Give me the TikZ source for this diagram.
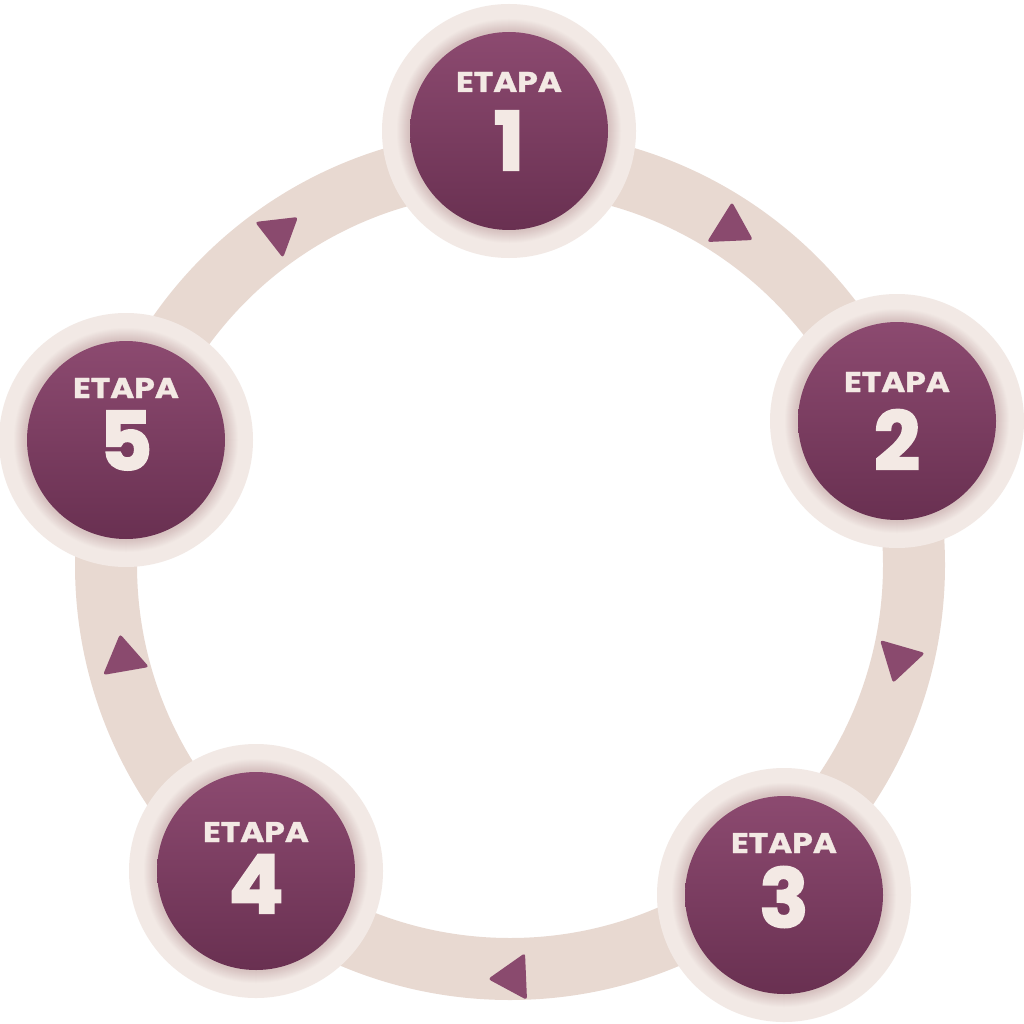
\documentclass[tikz,border=0pt]{standalone}
\usepackage{fontspec}
\setmainfont{Poppins}
\newfontfamily\digitfont{Poppins}[UprightFont=* Bold, FakeBold=2.5]
\newfontfamily\etapafont{Poppins}[UprightFont=* Bold, FakeBold=1]
\definecolor{ringc}{HTML}{E8D9D1}
\definecolor{discl}{HTML}{F2E9E5}
\definecolor{shadowc}{HTML}{D6C1BF}
\definecolor{ptop}{HTML}{8C4A70}
\definecolor{pbot}{HTML}{693051}
\definecolor{tric}{HTML}{8A4A6E}
\definecolor{textc}{HTML}{F3E9E4}
\tikzset{
  pdisc/.style={circle, minimum size=198pt, inner sep=0pt, top color=ptop, bottom color=pbot, draw=none},
  etapa/.style={anchor=base, text=textc, inner sep=0pt, font=\etapafont\fontsize{28.5}{30}\selectfont},
  digit/.style={anchor=base, text=textc, inner sep=0pt, font=\digitfont\fontsize{81}{85}\selectfont},
  arrowtri/.style={fill=tric, rounded corners=3pt}
}
\newcommand\stagedisc[6]{%
  \fill[discl] (#2,#3) circle[radius=127pt];
  \foreach \i in {0,...,12}{%
    \pgfmathtruncatemacro\pc{\i*8}%
    \fill[shadowc!\pc!discl] (#2,#3) circle[radius={(113-\i)*1pt}];
  }
  \node[pdisc] (s#1) at (#2,#3) {};
  \node[etapa] (e#1) at (#2,#5) {\scalebox{1.15}[1]{ETAPA}};
  \node[digit] (n#1) at (#2,#6) {#4};
}
\begin{document}
\begin{tikzpicture}[x=1pt,y=-1pt]
\useasboundingbox (0,0) rectangle (1024,1024);
\fill[white] (0,0) rectangle (1024,1024);
% ring
\draw[ringc, line width=62pt] (510,565) circle[radius=404pt];
% arrow triangles
\fill[arrowtri] (732,202) -- (753,240) -- (707,242) -- cycle;
\fill[arrowtri] (880,640) -- (925,653) -- (893,683) -- cycle;
\fill[arrowtri] (525,953) -- (527,1000) -- (488,979) -- cycle;
\fill[arrowtri] (120,634) -- (149,667) -- (103,675) -- cycle;
\fill[arrowtri] (255,222) -- (298,217) -- (283,258) -- cycle;
% stages
\stagedisc{1}{509}{131}{1}{92}{170}
\stagedisc{2}{897}{421}{2}{392}{470}
\stagedisc{3}{784}{895}{3}{853}{927}
\stagedisc{4}{256}{871}{4}{842}{913}
\stagedisc{5}{126}{440}{5}{398}{470}
\end{tikzpicture}
\end{document}
